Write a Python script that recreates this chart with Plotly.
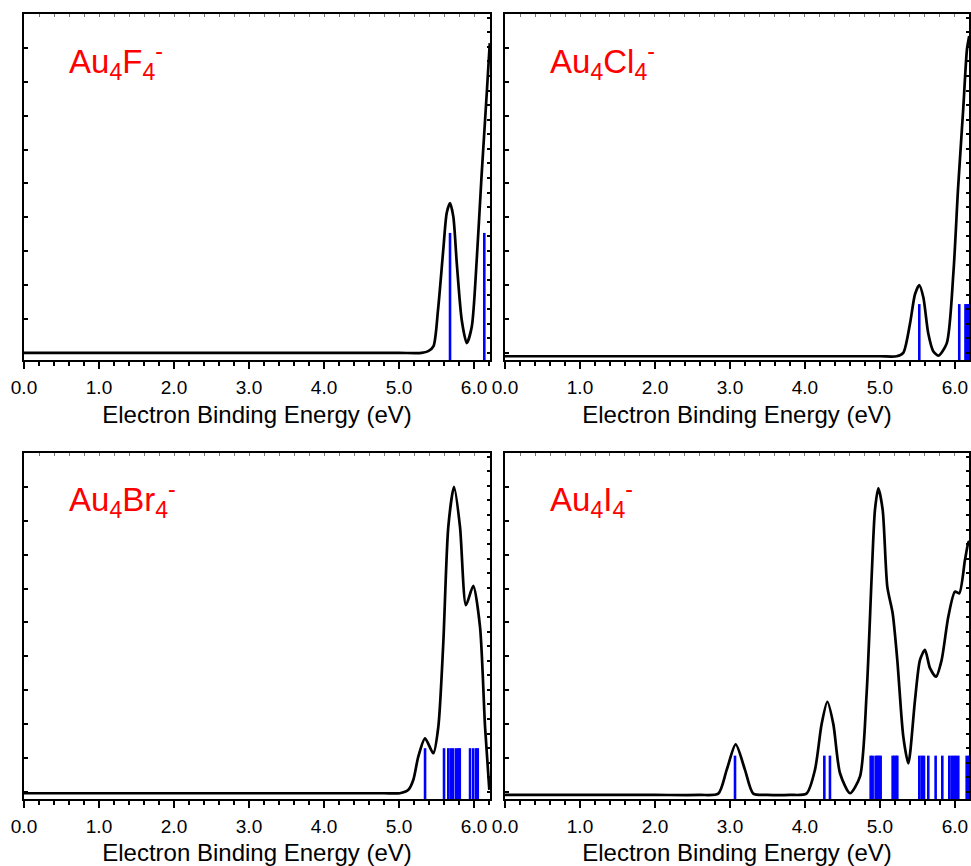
import plotly.graph_objects as go

# ---------------- data ----------------
labels = ["Au<sub>4</sub>F<sub>4</sub><sup>-</sup>",
          "Au<sub>4</sub>Cl<sub>4</sub><sup>-</sup>",
          "Au<sub>4</sub>Br<sub>4</sub><sup>-</sup>",
          "Au<sub>4</sub>I<sub>4</sub><sup>-</sup>"]

f_x = [0, 2.0, 4.0, 5.0, 5.30, 5.39, 5.46, 5.52, 5.59, 5.636, 5.68, 5.724, 5.77, 5.836, 5.903, 5.97, 6.036, 6.10, 6.17, 6.21]
f_y = [0, 0, 0, 0, 0, 0.005, 0.02, 0.127, 0.304, 0.413, 0.442, 0.402, 0.265, 0.097, 0.029, 0.077, 0.274, 0.52, 0.767, 0.914]

cl_x = [0, 2.0, 4.0, 5.0, 5.22, 5.31, 5.40, 5.467, 5.524, 5.578, 5.644, 5.71, 5.78, 5.89, 5.98, 6.04, 6.11, 6.16, 6.19]
cl_y = [-0.01, -0.01, -0.01, -0.01, -0.01, 0.0, 0.086, 0.173, 0.2, 0.164, 0.057, 0.005, -0.008, 0.028, 0.24, 0.481, 0.72, 0.896, 0.935]

br_x = [0, 2.0, 4.0, 4.8, 5.01, 5.125, 5.19, 5.257, 5.347, 5.457, 5.524, 5.59, 5.657, 5.733, 5.813, 5.893, 5.99, 6.08, 6.147, 6.204]
br_y = [-0.004, -0.004, -0.004, -0.004, -0.004, 0.006, 0.035, 0.104, 0.158, 0.114, 0.192, 0.438, 0.782, 0.9, 0.782, 0.551, 0.608, 0.487, 0.192, 0.006]

i_x = [0, 1.0, 2.0, 2.6, 2.844, 2.956, 3.076, 3.2, 3.31, 3.5, 3.8, 4.02, 4.133, 4.222, 4.298, 4.378, 4.467, 4.6, 4.733, 4.822,
       4.889, 4.933, 4.978, 5.036, 5.098, 5.169, 5.231, 5.311, 5.378, 5.467, 5.533, 5.6, 5.667, 5.747,
       5.822, 5.911, 6.0, 6.057, 6.133, 6.178, 6.19]
i_y = [-0.009, -0.009, -0.009, -0.009, -0.005, 0.065, 0.14, 0.065, -0.005, -0.009, -0.009, -0.005, 0.065, 0.2, 0.266, 0.2, 0.055, -0.004, 0.045, 0.291,
       0.635, 0.832, 0.896, 0.832, 0.605, 0.527, 0.389, 0.163, 0.084, 0.271, 0.389, 0.419, 0.365, 0.34,
       0.389, 0.517, 0.591, 0.586, 0.684, 0.736, 0.74]

f_sticks = [5.68, 6.137]
f_int = [0.354, 0.354]
cl_sticks = [5.524, 6.057, 6.14, 6.16, 6.18, 6.20]
cl_int = [0.144] * 6
br_sticks = [5.347, 5.60, 5.657, 5.69, 5.72, 5.76, 5.79, 5.81, 5.947, 5.99, 6.03, 6.05]
br_int = [0.129] * 12
i_sticks = [3.067, 4.258, 4.333, 4.876, 4.902, 4.942, 4.964, 4.987, 5.009, 5.169, 5.191, 5.213, 5.231,
            5.524, 5.556, 5.587, 5.644, 5.742, 5.831, 5.924, 5.956, 5.987, 6.013, 6.044, 6.156, 6.19]
i_int = [0.107] * 26

tick_vals = [0, 1, 2, 3, 4, 5, 6]
tick_text = ["0.0", "1.0", "2.0", "3.0", "4.0", "5.0", "6.0"]
x_title = "Electron Binding Energy (eV)"

# ---------------- layout ----------------
W, H = 971, 866
YMIN, YMAX = -0.021, 1.0
panels = [
    dict(cx=f_x, cy=f_y, sx=f_sticks, si=f_int, px=(24, 490), py=(14, 360), xmax=6.213),
    dict(cx=cl_x, cy=cl_y, sx=cl_sticks, si=cl_int, px=(505, 969), py=(14, 360), xmax=6.187),
    dict(cx=br_x, cy=br_y, sx=br_sticks, si=br_int, px=(24, 490), py=(453, 799), xmax=6.213),
    dict(cx=i_x, cy=i_y, sx=i_sticks, si=i_int, px=(505, 969), py=(453, 799), xmax=6.187),
]

FONT = "Liberation Sans, Arial, sans-serif"
fig = go.Figure()
layout = dict(width=W, height=H, autosize=False, margin=dict(l=0, r=0, t=0, b=0, pad=0, autoexpand=False),
              paper_bgcolor="white", plot_bgcolor="white", showlegend=False,
              font=dict(family=FONT, color="black"))
annotations = []

for k, p in enumerate(panels):
    n = k + 1
    nt = k + 5
    xs = "" if n == 1 else str(n)
    xd = [p["px"][0] / W, p["px"][1] / W]
    yd = [1 - p["py"][1] / H, 1 - p["py"][0] / H]

    # curve
    fig.add_trace(go.Scatter(x=p["cx"], y=p["cy"], mode="lines",
                             line=dict(color="black", width=2.7, shape="spline", smoothing=0.7),
                             xaxis="x" + xs, yaxis="y" + xs, hoverinfo="skip"))
    # sticks
    sx, sy = [], []
    for e, h in zip(p["sx"], p["si"]):
        sx += [e, e, None]
        sy += [YMIN, h, None]
    fig.add_trace(go.Scatter(x=sx, y=sy, mode="lines", line=dict(color="#0000ff", width=2.6),
                             xaxis="x" + xs, yaxis="y" + xs, hoverinfo="skip"))
    # dummy on overlay axes
    fig.add_trace(go.Scatter(x=[None], y=[None], mode="lines", xaxis="x" + str(nt), yaxis="y" + str(nt)))

    layout["xaxis" + xs] = dict(domain=xd, anchor="y" + xs, range=[0, p["xmax"]], automargin=False,
                                tickmode="array", tickvals=tick_vals, ticktext=tick_text,
                                ticks="outside", ticklen=7, tickwidth=1.5, tickcolor="black",
                                minor=dict(dtick=0.2, tick0=0, ticks="outside", ticklen=4, tickwidth=1.5, tickcolor="black"),
                                showline=True, linecolor="black", linewidth=2, mirror=True,
                                showgrid=False, zeroline=False,
                                tickfont=dict(size=19, family=FONT), ticklabelstandoff=2,
                                title=dict(text=x_title, font=dict(size=24, family=FONT), standoff=9))
    layout["yaxis" + xs] = dict(domain=yd, anchor="x" + xs, range=[YMIN, YMAX], automargin=False,
                                dtick=0.1, tick0=0, ticks="inside", ticklen=4, tickwidth=1.5, tickcolor="black",
                                showticklabels=False, showline=True, linecolor="black", linewidth=2, mirror=True,
                                showgrid=False, zeroline=False)
    layout["xaxis" + str(nt)] = dict(overlaying="x" + xs, side="top", anchor="y" + xs, range=[0, p["xmax"]],
                                     automargin=False,
                                     dtick=0.2, tick0=0, ticks="inside", ticklen=3, tickwidth=1.2, tickcolor="#777777",
                                     showticklabels=False, showline=False, showgrid=False, zeroline=False)
    layout["yaxis" + str(nt)] = dict(overlaying="y" + xs, side="right", anchor="x" + xs, range=[YMIN, YMAX],
                                     automargin=False,
                                     dtick=0.043, tick0=0, ticks="inside", ticklen=3, tickwidth=1.5, tickcolor="black",
                                     showticklabels=False, showline=False, showgrid=False, zeroline=False)

    annotations.append(dict(text=labels[k], xref="paper", yref="paper",
                            x=(p["px"][0] + 43) / W, y=1 - (p["py"][0] + 47) / H,
                            xanchor="left", yanchor="middle", showarrow=False,
                            font=dict(size=33, color="#ff0000", family=FONT)))

layout["annotations"] = annotations
fig.update_layout(**layout)
fig.write_html("out.html", config={"displayModeBar": False},
               post_script="document.body.style.margin='0';document.body.style.padding='0';"
                           "document.body.style.overflow='hidden';")
